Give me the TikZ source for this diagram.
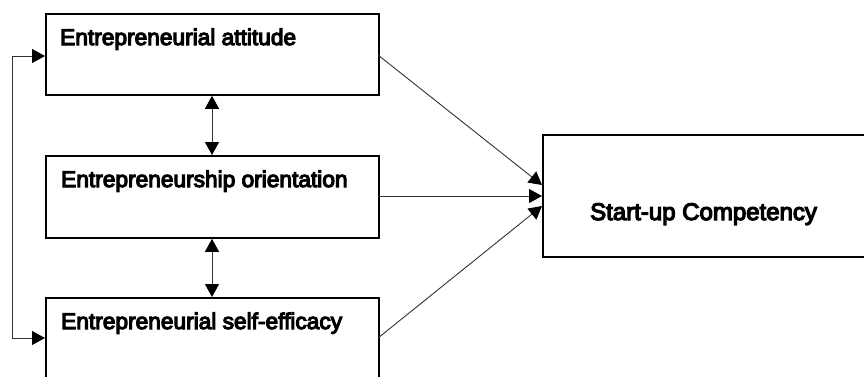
\documentclass[tikz,border=0pt]{standalone}
\usepackage{fontspec}
\setmainfont{Liberation Sans}[FakeBold=5]
\usetikzlibrary{arrows.meta}
\begin{document}
\begin{tikzpicture}[x=1pt,y=-1pt,
  boxstyle/.style={draw=black,line width=1.8pt},
  conn/.style={draw=black!80,line width=0.9pt},
  tip/.style={-{Triangle[length=13pt,width=14pt,color=black]}},
  dtip/.style={{Triangle[length=13pt,width=14pt,color=black]}-{Triangle[length=13pt,width=14pt,color=black]}},
  lbl/.style={anchor=base west,inner sep=0pt,font=\fontsize{22.7}{26}\selectfont},
  lblb/.style={anchor=base west,inner sep=0pt,font=\fontsize{24}{28}\selectfont}]
\useasboundingbox (0,0) rectangle (864,376);
\clip (0,0) rectangle (864,376);
\fill[white] (0,0) rectangle (864,376);
% boxes
\node[boxstyle,inner sep=0pt,minimum width=333pt,minimum height=81pt,anchor=north west] (a) at (45,13) {};
\node[boxstyle,inner sep=0pt,minimum width=333pt,minimum height=82pt,anchor=north west] (o) at (45,155) {};
\node[boxstyle,inner sep=0pt,minimum width=333pt,minimum height=100pt,anchor=north west] (s) at (45,297) {};
\node[boxstyle,inner sep=0pt,minimum width=330pt,minimum height=122pt,anchor=north west] (c) at (542,134) {};
% labels
\node[lbl] (ta) at (60,45) {Entrepreneurial attitude};
\node[lbl] (to) at (61,187) {Entrepreneurship orientation};
\node[lbl] (ts) at (61,329) {Entrepreneurial self-efficacy};
\node[lblb] (tc) at (590,220) {Start-up Competency};
% coordinates
\coordinate (aR) at (378,55);
\coordinate (oR) at (378,196);
\coordinate (sR) at (378,338);
\coordinate (c1) at (542,185);
\coordinate (c2) at (542,196);
\coordinate (c3) at (542,206);
\coordinate (aL) at (45,56);
\coordinate (sL) at (45,338);
\coordinate (fb1) at (12,56);
\coordinate (fb2) at (12,338);
% connectors
\draw[conn,tip] (aR) -- (c1);
\draw[conn,tip] (oR) -- (c2);
\draw[conn,tip] (sR) -- (c3);
\draw[conn,dtip] (a.south -| 212,0) -- (o.north -| 212,0);
\draw[conn,dtip] (o.south -| 212,0) -- (s.north -| 212,0);
\draw[conn,tip] (fb1) -- (aL);
\draw[conn,tip] (fb1) -- (fb2) -- (sL);
\end{tikzpicture}
\end{document}
